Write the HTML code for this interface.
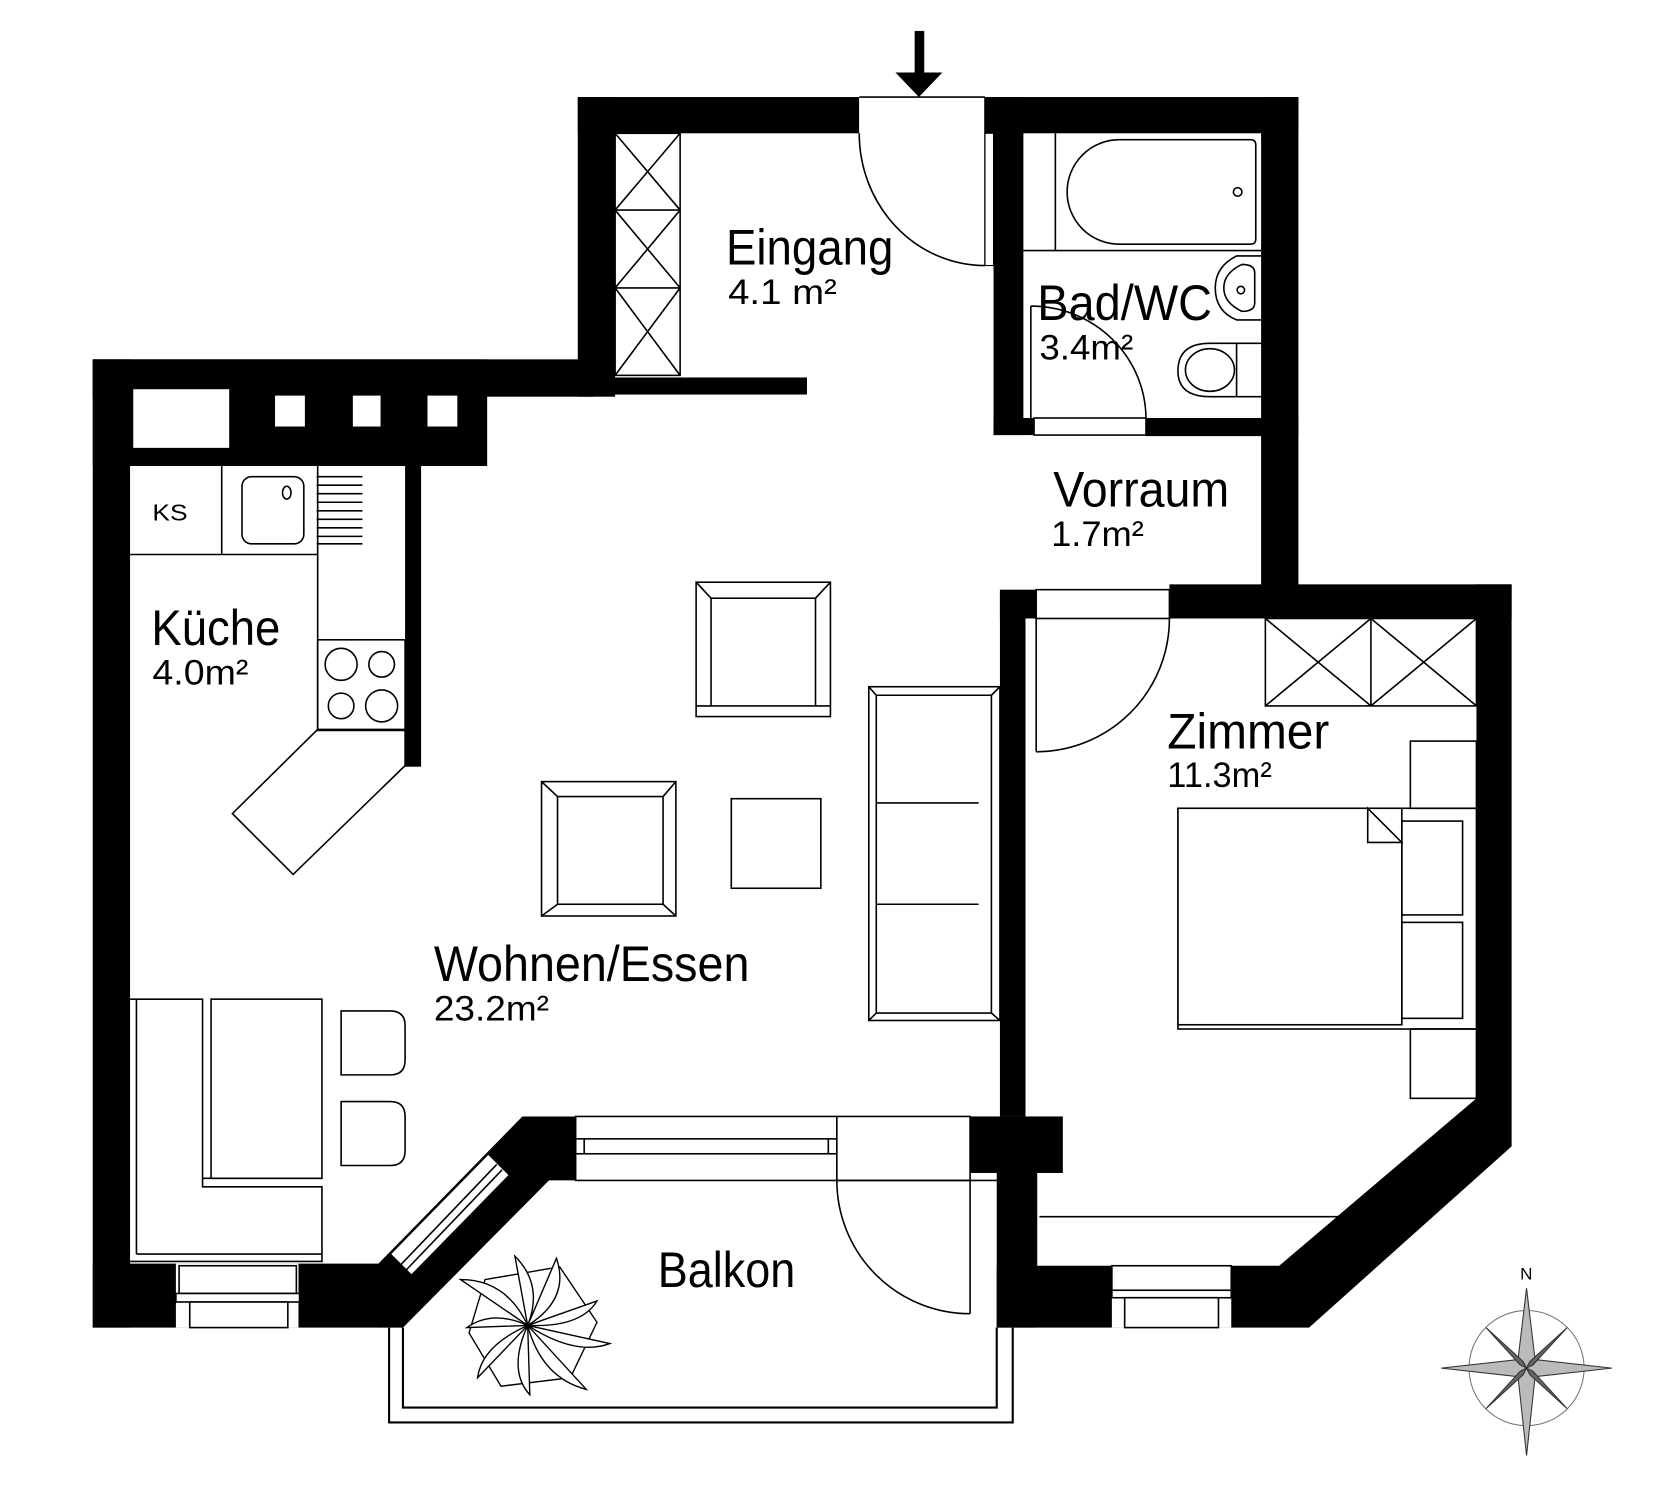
<!DOCTYPE html>
<html><head><meta charset="utf-8"><style>
html,body{margin:0;padding:0;background:#fff}
svg{display:block}
text{font-family:"Liberation Sans",Arial,sans-serif;fill:#000}
</style></head><body>
<svg width="1663" height="1511" viewBox="0 0 1560 1417" preserveAspectRatio="none" xmlns="http://www.w3.org/2000/svg">
<rect width="1560" height="1417" fill="#fff"/>
<g fill="#000" stroke="none">
<rect x="858" y="29" width="9" height="42"/>
<polygon points="840,68 884,68 862,91"/>
<rect x="542" y="91" width="264" height="34"/>
<rect x="924" y="91" width="294" height="34"/>
<rect x="542" y="91" width="35" height="281"/>
<rect x="932" y="91" width="28" height="317"/>
<rect x="1183" y="91" width="35" height="489"/>
<rect x="932" y="392" width="38" height="16"/>
<rect x="1075" y="392" width="143" height="17"/>
<rect x="87" y="337" width="470" height="35"/>
<rect x="542" y="354" width="215" height="16"/>
<rect x="87" y="337" width="370" height="100"/>
<rect x="87" y="337" width="35" height="908"/>
<rect x="380" y="437" width="15" height="282"/>
<rect x="87" y="1185" width="270" height="60"/>
<polygon points="355,1185 490,1047 540,1047 540,1107 515,1107 378,1245 355,1245"/>
<rect x="910" y="1047" width="87" height="53"/>
<rect x="935" y="1100" width="38" height="145"/>
<rect x="935" y="1187" width="293" height="58"/>
<rect x="938" y="555" width="24" height="492"/>
<rect x="938" y="553" width="34" height="27"/>
<rect x="1097" y="548" width="321" height="32"/>
<rect x="1385" y="548" width="33" height="527"/>
<polygon points="1385,1030 1418,1075 1228,1245 1200,1187"/>
</g>
<g fill="#fff" stroke="none">
<rect x="125" y="365" width="90" height="55"/>
<rect x="258" y="371" width="28" height="29"/>
<rect x="331" y="371" width="26" height="29"/>
<rect x="401" y="371" width="28" height="29"/>
</g>
<g fill="none" stroke="#000" stroke-width="1.5">
<rect x="806" y="91" width="118" height="34" fill="#fff" stroke="none"/>
<line x1="806" y1="91" x2="924" y2="91"/>
<line x1="924" y1="91" x2="924" y2="249"/>
<rect x="924" y="125" width="8" height="124" fill="#fff" stroke-width="1"/>
<path d="M806,125 A118,124 0 0 0 924,249"/>
<rect x="577" y="125" width="61" height="227"/>
<line x1="577" y1="197" x2="638" y2="197"/><line x1="577" y1="270" x2="638" y2="270"/>
<path d="M577,125 L638,197 M638,125 L577,197 M577,197 L638,270 M638,197 L577,270 M577,270 L638,352 M638,270 L577,352"/>
<line x1="990" y1="125" x2="990" y2="235"/>
<line x1="960" y1="235" x2="1183" y2="235"/>
<path d="M1050,131 L1173,131 Q1178,131 1178,136 L1178,224 Q1178,229 1173,229 L1050,229 A49,49 0 0 1 1050,131 Z"/>
<circle cx="1161" cy="180" r="4"/>
<path d="M1183,240 L1160,240 Q1140,250 1140,270 Q1140,292 1160,300 L1183,300"/>
<path d="M1165,248 Q1177,248 1177,256 L1177,284 Q1177,292 1165,292 Q1148,284 1148,270 Q1148,256 1165,248 Z"/>
<circle cx="1164" cy="272" r="3.5"/>
<path d="M1183,322 L1135,322 Q1105,322 1105,348 Q1105,372 1135,372 L1183,372"/>
<ellipse cx="1135" cy="347" rx="23" ry="20"/>
<line x1="1160" y1="322" x2="1160" y2="372"/>
<rect x="970" y="392" width="105" height="16" fill="#fff"/>
<line x1="967" y1="287" x2="967" y2="392"/>
<path d="M967,287 A108,106 0 0 1 1075,392"/>
<line x1="208" y1="437" x2="208" y2="520"/>
<line x1="122" y1="520" x2="298" y2="520"/>
<line x1="298" y1="437" x2="298" y2="685"/>
<rect x="227" y="447" width="58" height="63" rx="9"/>
<ellipse cx="269" cy="462" rx="4" ry="6"/>
<path d="M297,447h43M297,455h43M297,463h43M297,471h43M297,479h43M297,487h43M297,495h43M297,503h43M297,510h43"/>
<rect x="298" y="600" width="82" height="85"/>
<circle cx="320" cy="623" r="15"/><circle cx="358" cy="623" r="12"/>
<circle cx="320" cy="662" r="12"/><circle cx="358" cy="662" r="15"/>
<polygon points="298,684 218,763 275,820 380,718 380,684"/>
<rect x="653" y="546" width="126" height="126"/>
<rect x="667" y="561" width="98" height="101"/>
<path d="M653,546 L667,561 M779,546 L765,561 M653,662 L667,662 M779,662 L765,662"/>
<rect x="508" y="733" width="126" height="126"/>
<rect x="523" y="747" width="99" height="101"/>
<path d="M508,733 L523,747 M634,733 L622,747 M508,859 L523,848 M634,859 L622,848"/>
<rect x="686" y="749" width="84" height="84"/>
<rect x="815" y="644" width="123" height="313"/>
<line x1="822" y1="652" x2="822" y2="950"/>
<line x1="822" y1="652" x2="930" y2="652"/><line x1="930" y1="652" x2="930" y2="950"/><line x1="822" y1="950" x2="930" y2="950"/>
<path d="M815,644 L822,652 M938,644 L930,652 M815,957 L822,950 M938,957 L930,950"/>
<line x1="822" y1="753" x2="918" y2="753"/><line x1="822" y1="848" x2="918" y2="848"/>
<path d="M122,937 L190,937 L190,1113 L302,1113 L302,1183 L122,1183"/>
<line x1="128" y1="937" x2="128" y2="1176"/><line x1="128" y1="1176" x2="302" y2="1176"/>
<rect x="198" y="937" width="104" height="168"/>
<line x1="190" y1="1105" x2="302" y2="1105"/>
<path d="M320,948 L366,948 Q380,948 380,962 L380,994 Q380,1008 366,1008 L320,1008 Z"/>
<path d="M320,1033 L366,1033 Q380,1033 380,1047 L380,1079 Q380,1093 366,1093 L320,1093 Z"/>
<rect x="165" y="1185" width="115" height="60" fill="#fff" stroke="none"/>
<rect x="168" y="1187" width="110" height="26" fill="#fff"/>
<rect x="165" y="1213" width="116" height="8" fill="#fff"/>
<rect x="178" y="1221" width="92" height="24" fill="#fff"/>
<polygon points="366,1176 458,1082 478,1102 386,1196" fill="#fff"/>
<line x1="376" y1="1186" x2="466" y2="1092"/>
<line x1="381" y1="1191" x2="471" y2="1097"/>
<rect x="540" y="1047" width="245" height="60" fill="#fff"/>
<rect x="540" y="1068" width="245" height="14"/>
<line x1="548" y1="1068" x2="548" y2="1082"/><line x1="777" y1="1068" x2="777" y2="1082"/>
<rect x="785" y="1047" width="125" height="60" fill="#fff"/>
<line x1="785" y1="1107" x2="935" y2="1107"/>
<line x1="910" y1="1107" x2="910" y2="1232"/>
<path d="M785,1107 A125,125 0 0 0 910,1232"/>
<path d="M378,1245 L378,1320 L935,1320 L935,1245" stroke-width="2"/>
<path d="M365,1245 L365,1334 L950,1334 L950,1245" stroke-width="2"/>
<g stroke-width="1.3" fill="#fff">
<polygon points="455,1200 525,1188 560,1240 535,1292 470,1300 440,1250" fill="none"/>
<path d="M495,1243 L432,1200 Q475,1200 495,1243 Z"/>
<path d="M495,1243 L483,1178 Q510,1205 495,1243 Z"/>
<path d="M495,1243 L522,1180 Q535,1218 495,1243 Z"/>
<path d="M495,1243 L560,1220 Q545,1245 495,1243 Z"/>
<path d="M495,1243 L572,1260 Q540,1272 495,1243 Z"/>
<path d="M495,1243 L550,1303 Q508,1292 495,1243 Z"/>
<path d="M495,1243 L497,1308 Q476,1285 495,1243 Z"/>
<path d="M495,1243 L448,1292 Q452,1262 495,1243 Z"/>
<path d="M495,1243 L438,1245 Q462,1228 495,1243 Z"/>
</g>
<rect x="972" y="553" width="125" height="27" fill="#fff"/>
<line x1="972" y1="580" x2="972" y2="705"/>
<path d="M1097,580 A125,125 0 0 1 972,705"/>
<rect x="1187" y="580" width="198" height="82"/>
<line x1="1286" y1="580" x2="1286" y2="662"/>
<path d="M1187,580 L1286,662 M1286,580 L1187,662 M1286,580 L1385,662 M1385,580 L1286,662"/>
<rect x="1323" y="695" width="62" height="63"/>
<rect x="1105" y="758" width="280" height="207"/>
<rect x="1105" y="758" width="210" height="203" fill="#fff"/>
<path d="M1283,758 L1283,790 L1315,790 Z" fill="#fff"/>
<rect x="1315" y="770" width="57" height="88"/>
<rect x="1315" y="865" width="57" height="90"/>
<rect x="1323" y="965" width="62" height="65"/>
<line x1="975" y1="1141" x2="1258" y2="1141"/>
<rect x="1043" y="1187" width="112" height="58" fill="#fff" stroke="none"/>
<rect x="1043" y="1187" width="112" height="23" fill="#fff"/>
<rect x="1043" y="1210" width="112" height="7" fill="#fff"/>
<rect x="1055" y="1217" width="88" height="28" fill="#fff"/>
</g>
<text x="681" y="248" font-size="47" textLength="157" lengthAdjust="spacingAndGlyphs">Eingang</text>
<text x="683" y="285" font-size="33" textLength="102" lengthAdjust="spacingAndGlyphs">4.1  m²</text>
<text x="973" y="300" font-size="47" textLength="164" lengthAdjust="spacingAndGlyphs">Bad/WC</text>
<text x="975" y="337" font-size="33" textLength="88" lengthAdjust="spacingAndGlyphs">3.4m²</text>
<text x="988" y="475" font-size="47" textLength="165" lengthAdjust="spacingAndGlyphs">Vorraum</text>
<text x="986" y="512" font-size="33" textLength="87" lengthAdjust="spacingAndGlyphs">1.7m²</text>
<text x="142" y="605" font-size="47" textLength="121" lengthAdjust="spacingAndGlyphs">Küche</text>
<text x="143" y="642" font-size="33" textLength="90" lengthAdjust="spacingAndGlyphs">4.0m²</text>
<text x="143" y="488" font-size="22" textLength="33" lengthAdjust="spacingAndGlyphs">KS</text>
<text x="1095" y="702" font-size="47" textLength="152" lengthAdjust="spacingAndGlyphs">Zimmer</text>
<text x="1095" y="738" font-size="33" textLength="98" lengthAdjust="spacingAndGlyphs">11.3m²</text>
<text x="407" y="920" font-size="47" textLength="296" lengthAdjust="spacingAndGlyphs">Wohnen/Essen</text>
<text x="407" y="957" font-size="33" textLength="108" lengthAdjust="spacingAndGlyphs">23.2m²</text>
<text x="617" y="1207" font-size="47" textLength="129" lengthAdjust="spacingAndGlyphs">Balkon</text>
<text x="1426" y="1200" font-size="16">N</text>
<circle cx="1432" cy="1283" r="54" fill="none" stroke="#777" stroke-width="1"/>
<g stroke="#333" stroke-width="1" fill="#bbb">
<polygon points="1432,1208 1440,1275 1432,1283 1424,1275"/>
<polygon points="1432,1365 1440,1291 1432,1283 1424,1291"/>
<polygon points="1512,1283 1440,1275 1432,1283 1440,1291"/>
<polygon points="1352,1283 1424,1275 1432,1283 1424,1291"/>
<polygon points="1470,1245 1438,1280 1432,1283 1435,1277" fill="#666"/>
<polygon points="1394,1321 1426,1286 1432,1283 1429,1289" fill="#666"/>
<polygon points="1470,1321 1435,1289 1432,1283 1438,1286" fill="#666"/>
<polygon points="1394,1245 1429,1277 1432,1283 1426,1280" fill="#666"/>
</g>
</svg>
</body></html>
